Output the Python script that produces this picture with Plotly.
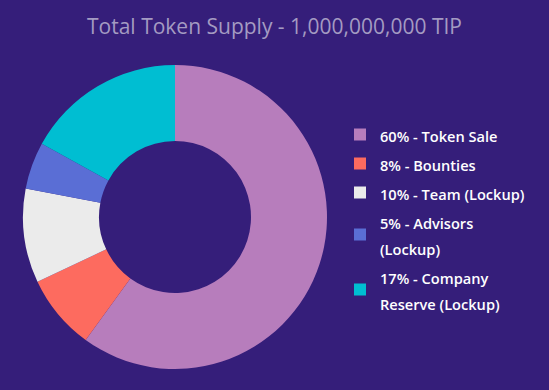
import plotly.graph_objects as go

labels = ["60% - Token Sale", "8% - Bounties", "10% - Team (Lockup)",
          "5% - Advisors<br>(Lockup)", "17% - Company<br>Reserve (Lockup)"]
values = [60, 8, 10, 5, 17]
colors = ["#B77DBC", "#FD6B5F", "#EBEBEB", "#5A6ED5", "#00BED2"]
title_text = "Total Token Supply - 1,000,000,000 TIP"

BG = "#351E7A"
W, H = 549, 390

legend_labels = ['<span style="font-size:14.6px">%s</span>' % l for l in labels]

fig = go.Figure(go.Pie(
    labels=legend_labels,
    values=values,
    hole=0.5,
    sort=False,
    direction="clockwise",
    textinfo="none",
    hoverinfo="skip",
    marker=dict(colors=colors, line=dict(width=0)),
    domain=dict(x=[23 / W, 327 / W], y=[21 / H, 325 / H]),
))

fig.update_layout(
    width=W, height=H,
    paper_bgcolor=BG, plot_bgcolor=BG,
    margin=dict(l=0, r=0, t=0, b=0, autoexpand=False),
    title=dict(text=title_text, x=0.5, xanchor="center", y=1 - 27 / H, yanchor="middle",
               font=dict(family="Open Sans", size=21, color="#A49BC2")),
    showlegend=True,
    legend=dict(
        x=340 / W, xanchor="left", y=1 - 115 / H, yanchor="top",
        font=dict(family="Open Sans", size=20, color="#FFFFFF", weight=600),
        bgcolor="rgba(0,0,0,0)", traceorder="normal",
    ),
)

fig.write_html(
    "out.html",
    config={"displayModeBar": False},
    post_script="document.body.style.margin='0';document.body.style.overflow='hidden';"
                "document.body.style.background='%s';" % BG,
)
